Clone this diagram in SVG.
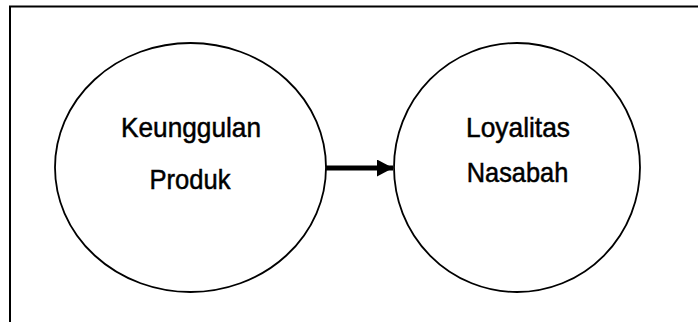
<svg xmlns="http://www.w3.org/2000/svg" width="698" height="322" viewBox="0 0 698 322">
<style>
.node{fill:#fff;stroke:#000;stroke-width:1.8}
.lbl{font-family:"Liberation Sans",Arial,sans-serif;font-size:28px;fill:#000;stroke:#000;stroke-width:0.5;text-anchor:middle}
.conn{stroke:#000;stroke-width:5;fill:none}
</style>
<defs>
<marker id="ah" markerUnits="userSpaceOnUse" markerWidth="18" markerHeight="18" refX="16" refY="8.5" orient="auto">
<path d="M0,0 L16,8.5 L0,17 Z" fill="#000"/>
</marker>
</defs>
<rect id="frame" x="10" y="6.5" width="700" height="330" fill="#fff" stroke="#000" stroke-width="2"/>
<g id="node-keunggulan">
<ellipse class="node" cx="190.5" cy="167.5" rx="135.5" ry="124.5"/>
<text class="lbl" x="191" y="136.5" textLength="140" lengthAdjust="spacingAndGlyphs">Keunggulan</text>
<text class="lbl" x="190" y="189" textLength="81" lengthAdjust="spacingAndGlyphs">Produk</text>
</g>
<g id="node-loyalitas">
<ellipse class="node" cx="517" cy="167.5" rx="123" ry="124.5"/>
<text class="lbl" x="518" y="136.5" textLength="104" lengthAdjust="spacingAndGlyphs">Loyalitas</text>
<text class="lbl" x="517.5" y="182" textLength="101.5" lengthAdjust="spacingAndGlyphs">Nasabah</text>
</g>
<g id="connectors">
<line class="conn" x1="326" y1="168" x2="393" y2="168" marker-end="url(#ah)"/>
</g>
</svg>
